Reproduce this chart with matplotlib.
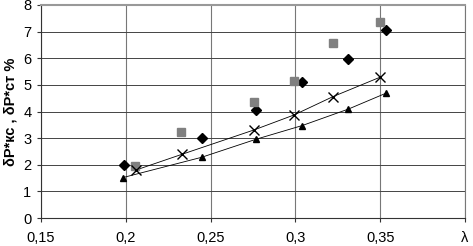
import matplotlib
matplotlib.use('Agg')
import matplotlib.pyplot as plt

plt.rcParams['font.family'] = ['Liberation Sans', 'DejaVu Sans']

# данные (λ, δP)
lam_diamond = [0.1988, 0.2447, 0.2769, 0.3038, 0.3310, 0.3537]
dp_diamond = [2.0, 3.01, 4.06, 5.12, 5.99, 7.07]

lam_square = [0.2057, 0.2326, 0.2755, 0.2990, 0.3222, 0.3500]
dp_square = [1.97, 3.22, 4.37, 5.15, 6.59, 7.36]

lam_cross = [0.2059, 0.2330, 0.2757, 0.2992, 0.3222, 0.3500]
dp_cross = [1.80, 2.39, 3.31, 3.87, 4.56, 5.29]

lam_tri = [0.1984, 0.2447, 0.2769, 0.3039, 0.3312, 0.3535]
dp_tri = [1.52, 2.28, 2.96, 3.47, 4.09, 4.69]

x_ticks = [0.15, 0.2, 0.25, 0.3, 0.35, 0.4]
x_labels = ['0,15', '0,2', '0,25', '0,3', '0,35', 'λ']
y_ticks = list(range(0, 9))

fig = plt.figure(figsize=(4.73, 2.46), dpi=100)
ax = fig.add_axes([41/473, 28/246, 424/473, 213/246])

ax.set_xlim(0.15, 0.4)
ax.set_ylim(0, 8)
ax.set_xticks(x_ticks)
ax.set_xticklabels(x_labels)
ax.set_yticks(y_ticks)

ax.grid(True, axis='y', color='#444444', linewidth=0.7)
ax.grid(True, axis='x', color='#777777', linewidth=0.8)
ax.set_axisbelow(True)

for s in ['left', 'bottom']:
    ax.spines[s].set_color('#333333')
    ax.spines[s].set_linewidth(0.8)
ax.spines['top'].set_color('#999999')
ax.spines['top'].set_linewidth(1.5)
ax.spines['right'].set_color('#777777')
ax.spines['right'].set_linewidth(0.8)

ax.tick_params(axis='both', labelsize=10.5, length=3, color='#333333')
ax.tick_params(axis='x', pad=6)
ax.tick_params(axis='y', pad=4)

# линии тренда
ax.plot(lam_cross, dp_cross, color='black', linewidth=0.6)
ax.plot(lam_tri, dp_tri, color='black', linewidth=0.6)

ax.plot(lam_diamond, dp_diamond, linestyle='none', marker='D', markersize=5.5,
        color='black')
ax.plot(lam_square, dp_square, linestyle='none', marker='s', markersize=6,
        color='#808080')
ax.plot(lam_cross, dp_cross, linestyle='none', marker='x', markersize=6.5,
        color='black', markeredgewidth=1)
ax.plot(lam_tri, dp_tri, linestyle='none', marker='^', markersize=5,
        color='black')

ax.set_ylabel('δP*кс , δP*ст %', fontsize=10.5, fontweight='bold', labelpad=4)

fig.savefig('out.png', dpi=100)
